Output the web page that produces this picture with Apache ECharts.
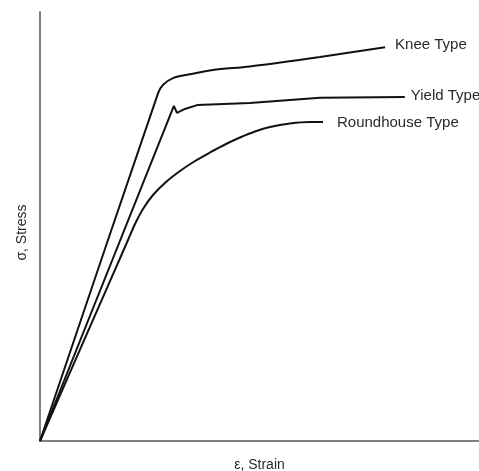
<!DOCTYPE html>
<html>
<head>
<meta charset="utf-8">
<script src="https://cdn.jsdelivr.net/npm/echarts@6/dist/echarts.min.js"></script>
<style>
  html, body { margin: 0; padding: 0; background: #ffffff; }
  #chart { width: 479px; height: 471px; }
</style>
</head>
<body>
<div id="chart"></div>
<script>
// Stress-strain curve shapes (arbitrary units: strain 0-100, stress 0-100)
const seriesNames = ['Knee Type', 'Yield Type', 'Roundhouse Type'];

const kneeStrain  = [0, 26.9, 28.0, 30.3, 34.2, 39.4, 47.8, 63.8, 78.6];
const kneeStress  = [0, 81.1, 83.0, 84.6, 85.5, 86.5, 87.3, 89.5, 91.8];

const yieldStrain = [0, 30.5, 31.2, 33.0, 35.8, 47.8, 63.8, 83.1];
const yieldStress = [0, 78.1, 76.5, 77.4, 78.3, 78.8, 80.0, 80.2];

const roundStrain = [0, 10.0, 20.05, 21.64, 23.46, 25.74, 28.70, 31.89, 35.31, 38.72, 42.37, 45.56, 48.97, 52.39, 56.95, 61.50, 64.46];
const roundStress = [0, 23.4, 46.85, 50.58, 54.08, 57.34, 60.37, 62.94, 65.27, 67.25, 69.23, 70.75, 72.14, 73.19, 74.01, 74.36, 74.36];

const xAxisTitle = 'ε, Strain';
const yAxisTitle = 'σ, Stress';

function pairs(xs, ys) { return xs.map((x, i) => [x, ys[i]]); }

const lineStyle = { color: '#111111', width: 2 };
const fontFamily = 'Liberation Sans, Arial, sans-serif';
const labelText = { color: '#2a2a2a', fontSize: 15, fontFamily: fontFamily };

const chart = echarts.init(document.getElementById('chart'), null, { renderer: 'canvas' });
chart.setOption({
  backgroundColor: '#ffffff',
  animation: false,
  grid: { left: 40, right: 0, top: 12, bottom: 30, outerBoundsMode: 'none', containLabel: false },
  xAxis: {
    type: 'value', min: 0, max: 100,
    name: xAxisTitle, nameLocation: 'middle', nameGap: 17,
    nameTextStyle: { color: '#2a2a2a', fontSize: 14, fontFamily: fontFamily },
    axisLine: { show: true, lineStyle: { color: '#808080', width: 2 } },
    axisTick: { show: false }, axisLabel: { show: false }, splitLine: { show: false }
  },
  yAxis: {
    type: 'value', min: 0, max: 100,
    name: yAxisTitle, nameLocation: 'middle', nameGap: 11, nameRotate: 90,
    nameTextStyle: { color: '#2a2a2a', fontSize: 14, fontFamily: fontFamily, padding: [0, 12, 0, 0] },
    axisLine: { show: true, lineStyle: { color: '#808080', width: 2 } },
    axisTick: { show: false }, axisLabel: { show: false }, splitLine: { show: false }
  },
  series: [
    {
      name: seriesNames[0], type: 'line', showSymbol: false, smooth: 0.3,
      data: pairs(kneeStrain, kneeStress), lineStyle: lineStyle,
      endLabel: Object.assign({ show: true, formatter: '{a}', distance: 10, offset: [0, -2] }, labelText)
    },
    {
      name: seriesNames[1], type: 'line', showSymbol: false, smooth: false,
      data: pairs(yieldStrain, yieldStress), lineStyle: lineStyle,
      endLabel: Object.assign({ show: true, formatter: '{a}', distance: 6, offset: [0, -1] }, labelText)
    },
    {
      name: seriesNames[2], type: 'line', showSymbol: false, smooth: 0.3,
      data: pairs(roundStrain, roundStress), lineStyle: lineStyle,
      endLabel: Object.assign({ show: true, formatter: '{a}', distance: 14, offset: [0, 1] }, labelText)
    }
  ]
});
</script>
</body>
</html>
